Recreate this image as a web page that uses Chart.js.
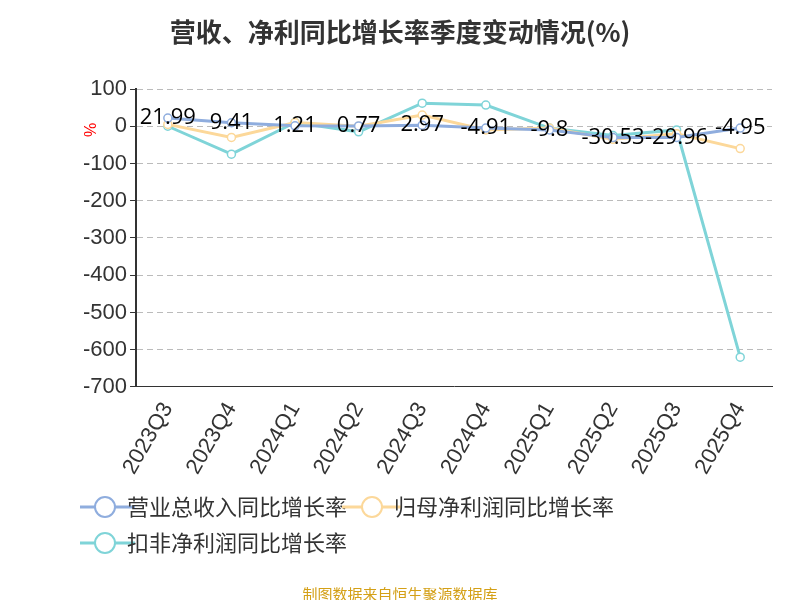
<!DOCTYPE html>
<html><head><meta charset="utf-8">
<script src="https://cdn.jsdelivr.net/npm/chart.js@4"></script>
<style>body{margin:0;background:#fff}#wrap{width:800px;height:600px;position:relative}</style>
</head><body><div id="wrap"><canvas id="c" width="800" height="600"></canvas></div>
<script>
const quarters = ['2023Q3','2023Q4','2024Q1','2024Q2','2024Q3','2024Q4','2025Q1','2025Q2','2025Q3','2025Q4'];
const revenue = [21.99, 9.41, 1.21, 0.77, 2.97, -4.91, -9.8, -30.53, -29.96, -4.95];
const netProfit = [5, -30, 10, 0, 30, -10, -5, -35, -20, -60];
const deducted = [0, -75, 10, -15, 62, 57, -5, -25, -10, -620];

const labelPlugin = {
  id: 'labels',
  afterDatasetsDraw(chart) {
    const ctx = chart.ctx;
    const meta = chart.getDatasetMeta(0);
    ctx.save();
    ctx.font = '22px "Open Sans", sans-serif';
    ctx.fillStyle = '#000';
    ctx.textAlign = 'center';
    ctx.textBaseline = 'middle';
    meta.data.forEach((p, i) => ctx.fillText(revenue[i], p.x, p.y));
    ctx.restore();
  }
};
const extras = {
  id: 'extras',
  afterDraw(chart) {
    const ctx = chart.ctx;
    ctx.save();
    ctx.fillStyle = '#333';
    ctx.font = 'bold 26px "Noto Sans CJK SC", sans-serif';
    ctx.textAlign = 'center';
    ctx.fillText('营收、净利同比增长率季度变动情况(%)', 400, 32);
    ctx.fillStyle = '#d4a017';
    ctx.font = '15px "Noto Sans CJK SC", sans-serif';
    ctx.fillText('制图数据来自恒生聚源数据库', 400, 594);
    ctx.fillStyle = 'red';
    ctx.font = '16px sans-serif';
    ctx.translate(92, 130);
    ctx.rotate(-Math.PI / 2);
    ctx.fillText('%', 0, 0);
    ctx.restore();
  }
};
function legendIcon(color) {
  const cv = document.createElement('canvas');
  cv.width = 60; cv.height = 24;
  const c = cv.getContext('2d');
  c.strokeStyle = color; c.lineWidth = 3;
  c.beginPath(); c.moveTo(0, 12); c.lineTo(60, 12); c.stroke();
  c.fillStyle = '#fff'; c.lineWidth = 2;
  c.beginPath(); c.arc(30, 12, 10, 0, Math.PI * 2); c.fill(); c.stroke();
  return cv;
}
function ds(label, data, color) {
  return { label, data, borderColor: color, backgroundColor: '#fff', borderWidth: 3,
    pointRadius: 4, pointBorderWidth: 1.5, pointBorderColor: color, pointBackgroundColor: '#fff', tension: 0 };
}
new Chart(document.getElementById('c'), {
  type: 'line',
  data: { labels: quarters, datasets: [
    ds('营业总收入同比增长率', revenue, '#8fadde'),
    ds('归母净利润同比增长率', netProfit, '#fcd89a'),
    ds('扣非净利润同比增长率', deducted, '#7fd4d8')
  ]},
  options: {
    responsive: false, animation: false,
    layout: { padding: { top: 89, left: 80, right: 28, bottom: 36 } },
    plugins: {
      legend: { position: 'bottom', align: 'start',
        labels: { font: { size: 22, family: '"Noto Sans CJK SC", sans-serif' }, color: '#333',
          usePointStyle: true, padding: 14,
          generateLabels(chart) {
            return chart.data.datasets.map((d, i) => ({ text: d.label, pointStyle: legendIcon(d.borderColor),
              datasetIndex: i, fontColor: '#333', lineWidth: 0 }));
          } } },
      tooltip: { enabled: false }
    },
    scales: {
      x: { offset: true, grid: { display: false }, border: { color: '#333' },
        ticks: { color: '#333', font: { size: 22 }, maxRotation: 60, minRotation: 60 } },
      y: { min: -700, max: 100, ticks: { stepSize: 100, color: '#333', font: { size: 22 } },
        grid: { color: '#bbb', tickColor: '#333', drawTicks: true, tickLength: 6 },
        border: { color: '#333', width: 2, dash: [6, 4] } }
    }
  },
  plugins: [labelPlugin, extras]
});
</script></body></html>
